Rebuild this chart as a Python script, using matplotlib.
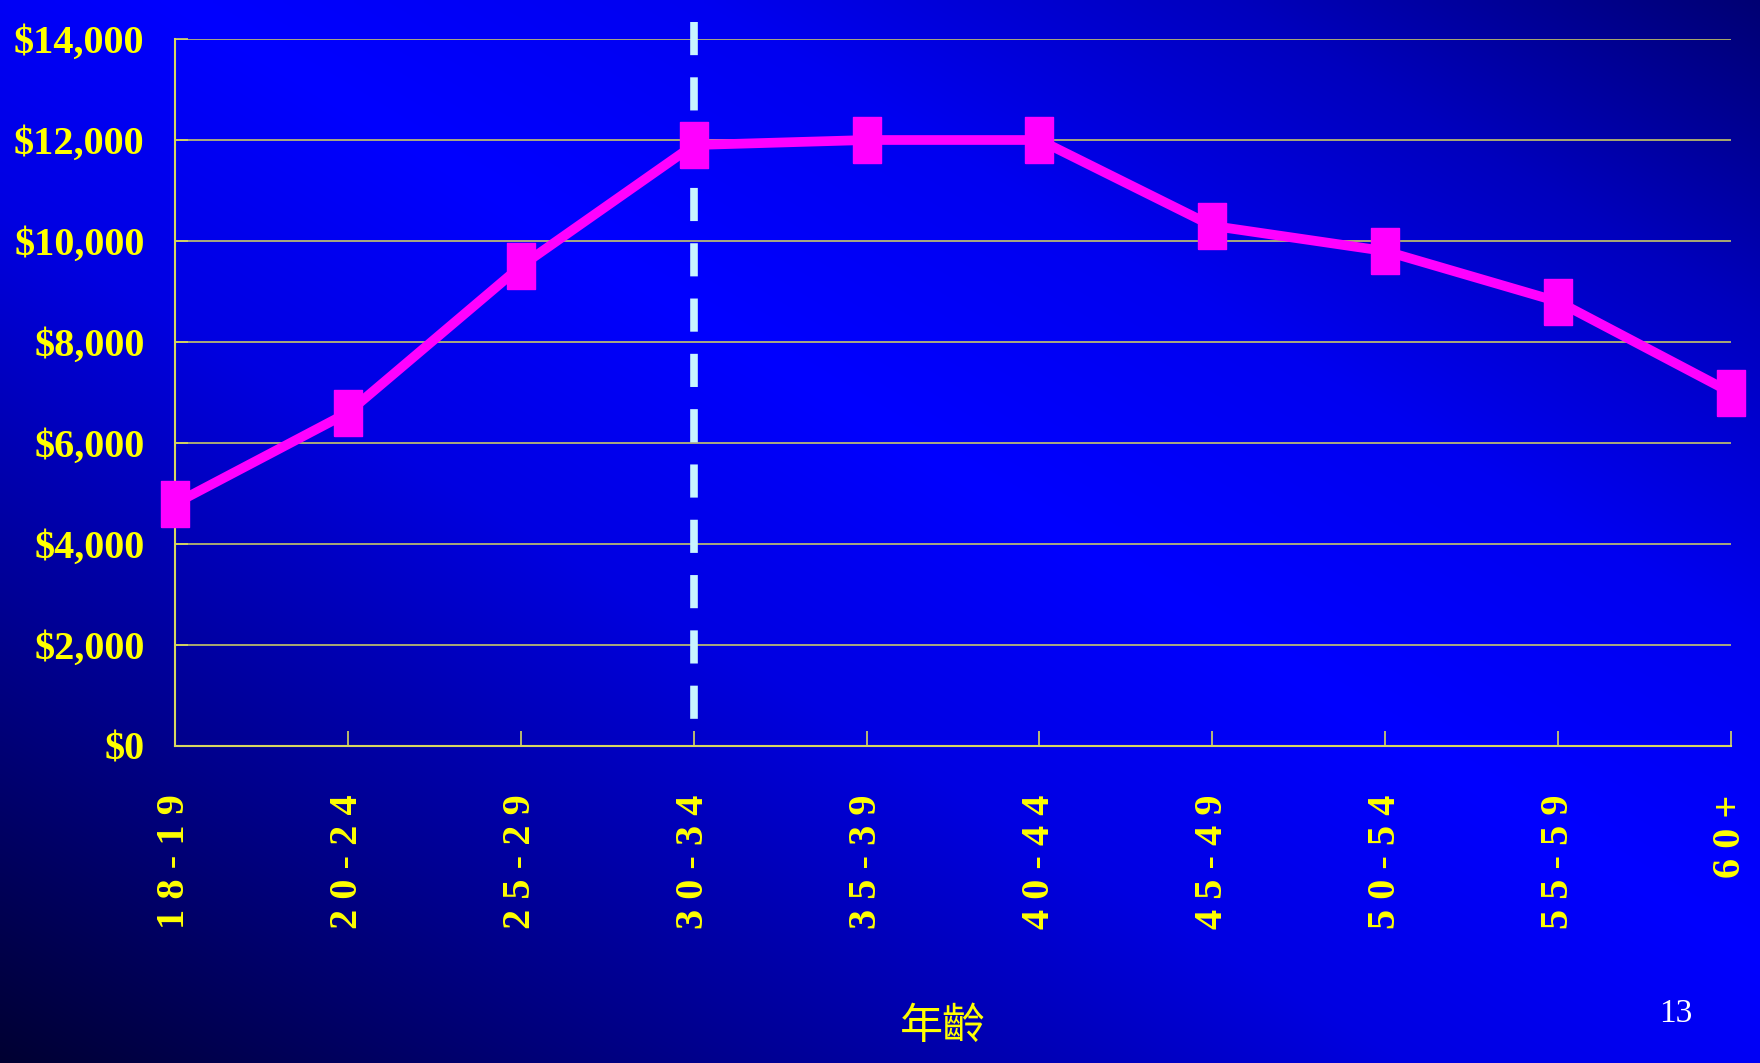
import numpy as np
import matplotlib
matplotlib.use("Agg")
import matplotlib.pyplot as plt
from matplotlib.ticker import FuncFormatter, MultipleLocator

# ---- data ----
age_groups = ["18-19", "20-24", "25-29", "30-34", "35-39", "40-44",
              "45-49", "50-54", "55-59", "60+"]
spending = [4800, 6600, 9500, 11900, 12000, 12000, 10300, 9800, 8800, 7000]
peak_group = "30-34"
x_label = "年齡"
page_number = "13"

W, H = 1760, 1063
fig = plt.figure(figsize=(W / 100, H / 100), dpi=100)

# ---- background gradient ----
bg = fig.add_axes([0, 0, 1, 1], zorder=-10)
u = np.linspace(0, 1, 400)
v = np.linspace(0, 1, 240)
U, V = np.meshgrid(u, v)  # V: 0 top -> 1 bottom
t = (U + (1 - V)) / 2
blue = np.interp(t, [0, 0.2, 0.4, 0.55, 0.7, 0.85, 1.0],
                 [50, 140, 225, 255, 240, 190, 115]) / 255.0
img = np.zeros((len(v), len(u), 3))
img[..., 2] = blue
bg.imshow(img, aspect="auto", extent=[0, 1, 0, 1], origin="upper", interpolation="bilinear")
bg.set_axis_off()

# ---- main axes ----
left, right = 175 / W, 1731 / W
bottom, top = 1 - 746 / H, 1 - 39 / H
ax = fig.add_axes([left, bottom, right - left, top - bottom])
ax.patch.set_alpha(0)

xs = np.arange(len(age_groups))
ax.set_xlim(0, len(age_groups) - 1)
ax.set_ylim(0, 14000)

yellow = "#ffff00"
grid_c = "#d8d860"
ax.yaxis.set_major_locator(MultipleLocator(2000))
ax.grid(axis="y", color=grid_c, linewidth=1.1)
ax.set_axisbelow(True)

for s in ["top", "right"]:
    ax.spines[s].set_visible(False)
for s in ["left", "bottom"]:
    ax.spines[s].set_color(grid_c)
    ax.spines[s].set_linewidth(1.5)

# peak dashed line (drawn top to bottom)
px = age_groups.index(peak_group)
ax.plot([px, px], [14330, 530], color="#c8f4ff", linewidth=5.5,
        dashes=(4.34, 2.9), clip_on=False, zorder=3)

# data line with tall square markers
marker_shape = [(-0.31, -0.5), (0.31, -0.5), (0.31, 0.5), (-0.31, 0.5), (-0.31, -0.5)]
ax.plot(xs, spending, color="#ff00ff", linewidth=7, marker=marker_shape,
        markersize=33, markerfacecolor="#ff00ff", markeredgecolor="#ff00ff",
        clip_on=False, zorder=4)

# ticks
ax.set_xticks(xs)
ax.set_xticklabels([" ".join(g) for g in age_groups], rotation=90,
                   family="Liberation Serif", fontweight="bold",
                   fontsize=29, color=yellow)
ax.tick_params(axis="x", direction="in", length=11, width=1.2, color=grid_c, pad=35)
ax.tick_params(axis="y", direction="in", length=9, width=1.2, color=grid_c, pad=22)
ax.yaxis.set_major_formatter(FuncFormatter(lambda val, pos: f"${val:,.0f}"))
for lab in ax.get_yticklabels():
    lab.set_family("Liberation Serif")
    lab.set_fontweight("bold")
    lab.set_fontsize(29)
    lab.set_color(yellow)

# x axis label and page number
fig.text(943 / W, 1 - 1027 / H, x_label, ha="center", va="center",
         family=["Noto Sans CJK TC", "DejaVu Sans"], fontsize=31, color=yellow)
fig.text(1676 / W, 1 - 1014 / H, page_number, ha="center", va="center",
         family="Liberation Serif", fontsize=24, color="white")

fig.savefig("out.png", dpi=100)
